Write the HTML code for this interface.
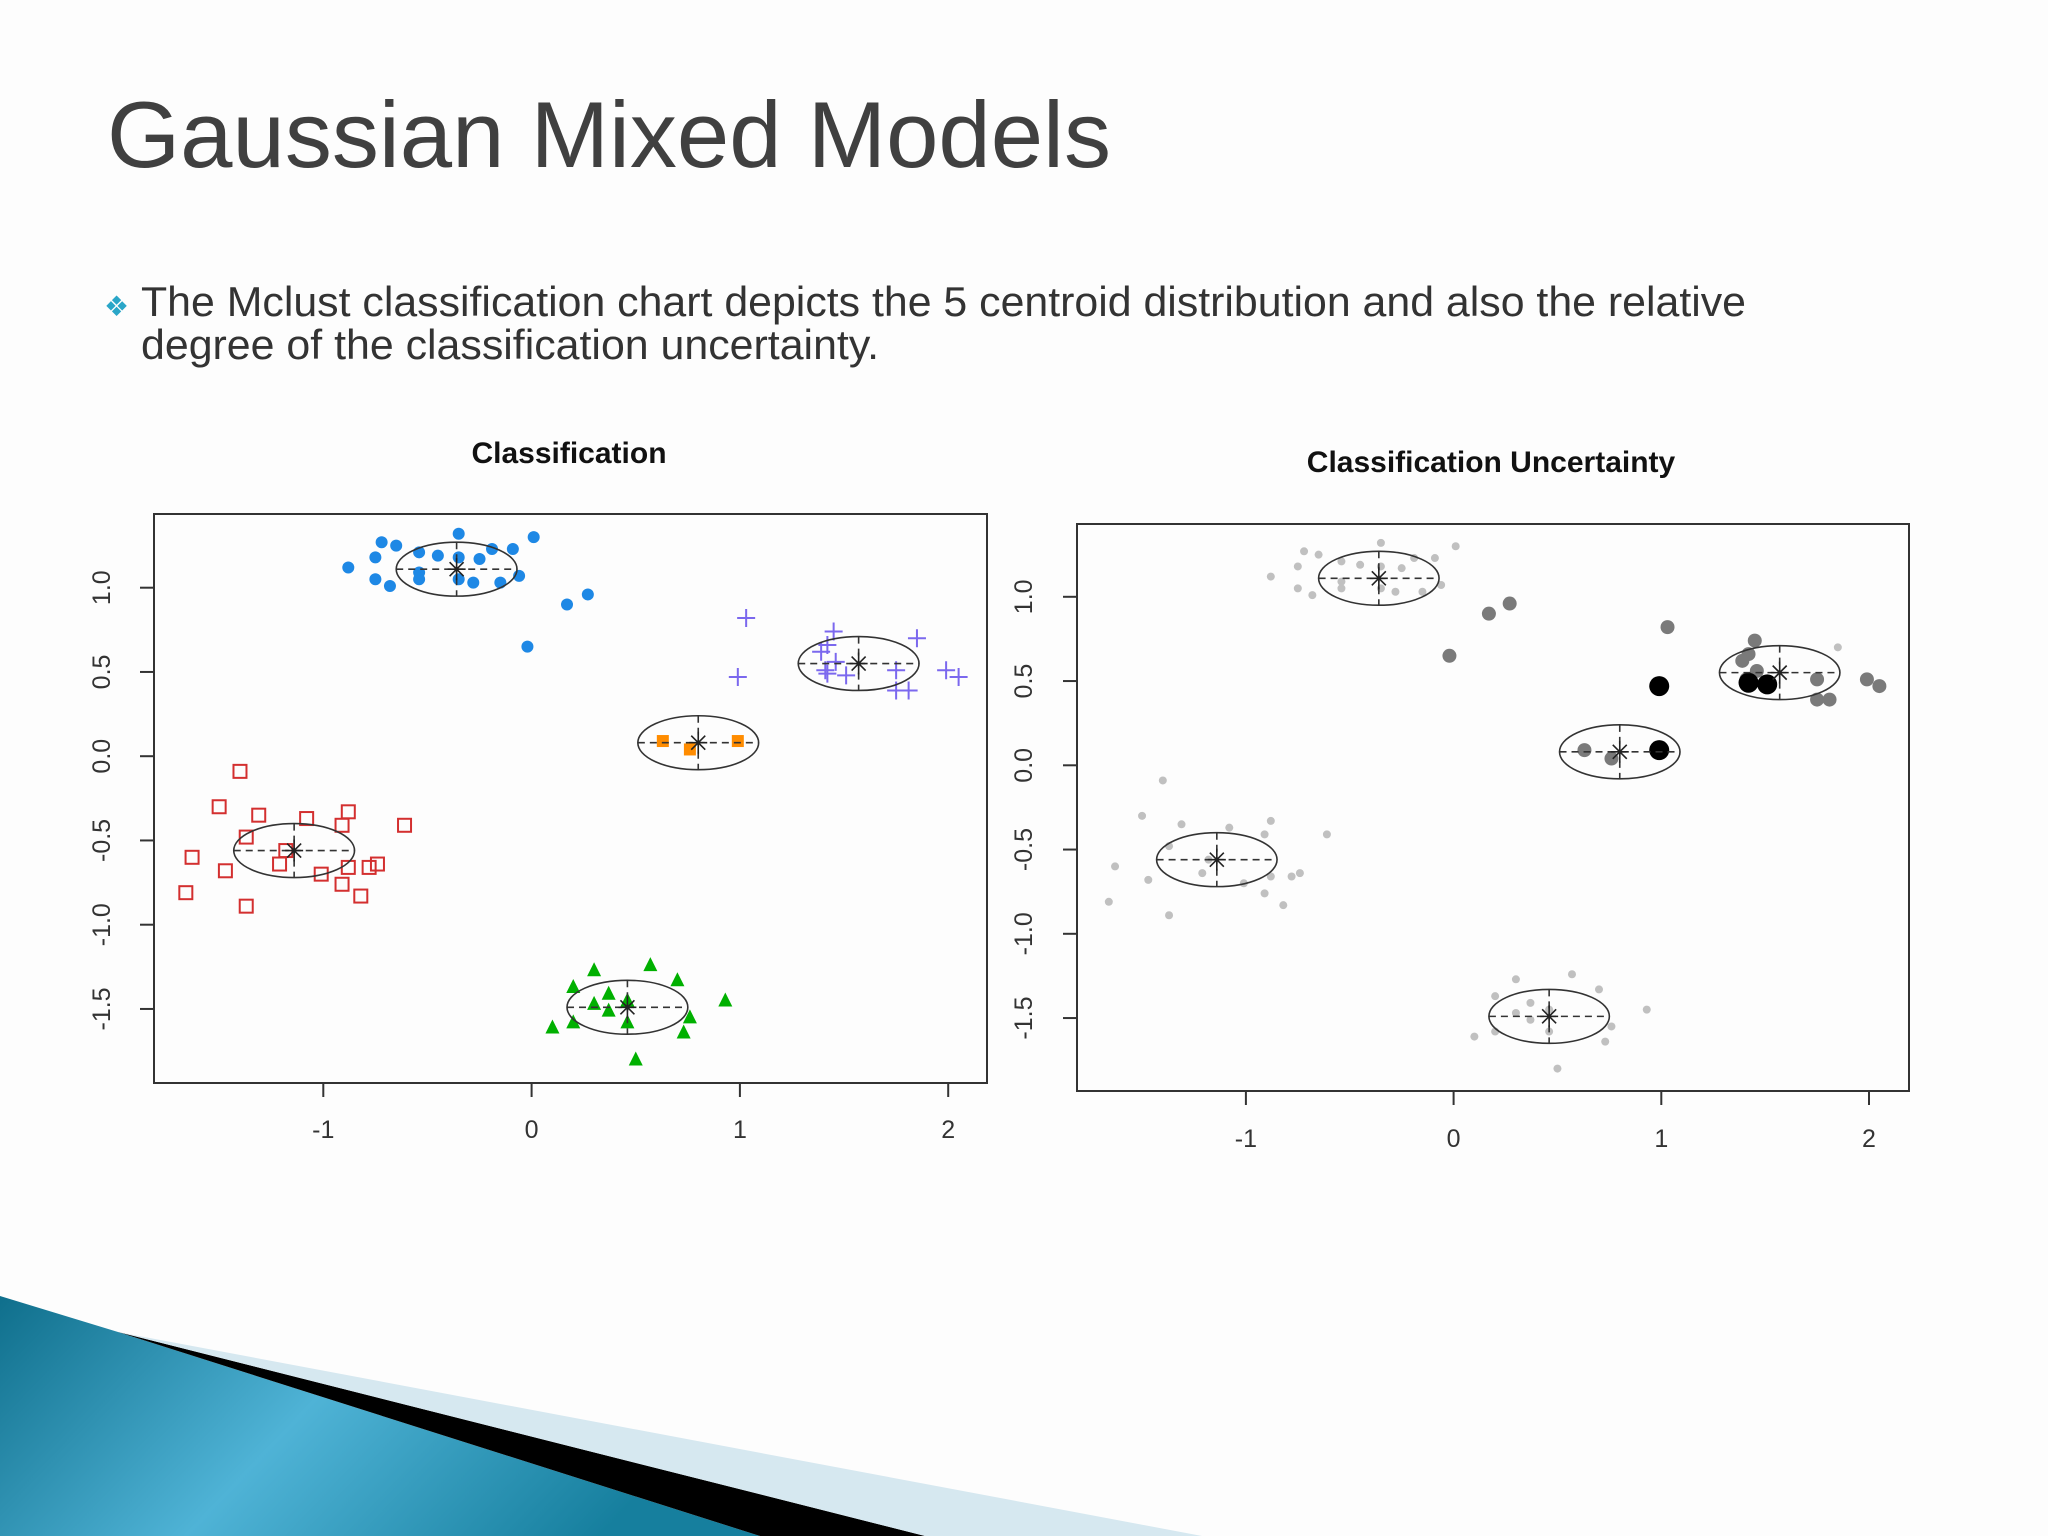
<!DOCTYPE html>
<html><head><meta charset="utf-8"><style>
html,body{margin:0;padding:0;background:#fdfdfd;}
svg{display:block;}
text{font-family:"Liberation Sans",sans-serif;}
</style></head><body>
<svg id="root" width="2048" height="1536" viewBox="0 0 2048 1536" xmlns="http://www.w3.org/2000/svg">
<defs>
<linearGradient id="bg1" x1="0" y1="0" x2="1" y2="0.3">
<stop offset="0" stop-color="#0f6f8c"/><stop offset="0.5" stop-color="#4fb3d6"/><stop offset="1" stop-color="#167f9e"/>
</linearGradient>
</defs>
<rect width="2048" height="1536" fill="#fdfdfd"/>
<text x="107" y="167" font-size="94" fill="#404040" textLength="1004" lengthAdjust="spacingAndGlyphs">Gaussian Mixed Models</text>
<text x="104" y="316" font-size="28" fill="#2aa6c8">❖</text>
<text x="141" y="316" font-size="42" fill="#333" textLength="1605" lengthAdjust="spacingAndGlyphs">The Mclust classification chart depicts the 5 centroid distribution and also the relative</text>
<text x="141" y="359" font-size="42" fill="#333" textLength="738" lengthAdjust="spacingAndGlyphs">degree of the classification uncertainty.</text>
<polygon points="0,1296 118,1332 760,1536 0,1536" fill="url(#bg1)"/>
<polygon points="118,1332 925,1536 760,1536" fill="#000"/>
<polygon points="118,1332 1202,1536 925,1536" fill="#d6e8f0"/>
<g id="chart1"></g>
<g id="chart2"></g>
</svg>
<script>
const blueX=[-0.35,0.01,-0.72,-0.65,-0.54,-0.45,-0.35,-0.25,-0.19,-0.09,-0.75,-0.88,-0.54,-0.75,-0.68,-0.54,-0.35,-0.28,-0.15,-0.06,0.17,0.27,-0.02];
const blueY=[1.32,1.30,1.27,1.25,1.21,1.19,1.18,1.17,1.23,1.23,1.18,1.12,1.09,1.05,1.01,1.05,1.05,1.03,1.03,1.07,0.90,0.96,0.65];
const blueU=[0,0,0,0,0,0,0,0,0,0,0,0,0,0,0,0,0,0,0,0,1,1,1];
const purpleX=[1.03,0.99,1.45,1.42,1.39,1.41,1.46,1.51,1.85,1.75,1.75,1.81,1.99,2.05,1.42];
const purpleY=[0.82,0.47,0.74,0.66,0.62,0.51,0.56,0.48,0.70,0.51,0.39,0.39,0.51,0.47,0.49];
const purpleU=[1,2,1,1,1,1,1,2,0,1,1,1,1,1,2];
const orangeX=[0.63,0.76,0.99];
const orangeY=[0.09,0.04,0.09];
const orangeU=[1,1,2];
const redX=[-1.40,-1.50,-1.31,-1.08,-0.88,-0.91,-0.61,-1.37,-1.18,-1.63,-1.21,-1.47,-1.01,-0.88,-0.78,-0.74,-1.66,-0.91,-0.82,-1.37];
const redY=[-0.09,-0.30,-0.35,-0.37,-0.33,-0.41,-0.41,-0.48,-0.56,-0.60,-0.64,-0.68,-0.70,-0.66,-0.66,-0.64,-0.81,-0.76,-0.83,-0.89];
const redU=[0,0,0,0,0,0,0,0,0,0,0,0,0,0,0,0,0,0,0,0];
const greenX=[0.30,0.57,0.70,0.20,0.37,0.30,0.46,0.37,0.93,0.10,0.20,0.46,0.76,0.73,0.50];
const greenY=[-1.27,-1.24,-1.33,-1.37,-1.41,-1.47,-1.45,-1.51,-1.45,-1.61,-1.58,-1.58,-1.55,-1.64,-1.80];
const greenU=[0,0,0,0,0,0,0,0,0,0,0,0,0,0,0];
const centerX=[-0.36,1.57,0.80,-1.14,0.46];
const centerY=[1.11,0.55,0.08,-0.56,-1.49];
const xTicks=[-1,0,1,2];
const yTicks=[-1.5,-1.0,-0.5,0.0,0.5,1.0];
const yTickLabels=["-1.5","-1.0","-0.5","0.0","0.5","1.0"];

const NS="http://www.w3.org/2000/svg";
function mk(parent,tag,attrs){const e=document.createElementNS(NS,tag);for(const k in attrs)e.setAttribute(k,attrs[k]);parent.appendChild(e);return e;}

function drawChart(gid,box,x0,xu,y0,yu,title,titleX,titleY,ylabX,xlabY,mode){
  const g=document.getElementById(gid);
  const sx=v=>x0+v*xu, sy=v=>y0-v*yu;
  const t=mk(g,'text',{x:titleX,y:titleY,'font-size':30,'font-weight':'bold','text-anchor':'middle',fill:'#111'});
  t.textContent=title;
  
  
  const fr=mk(g,'rect',{x:box[0],y:box[1],width:box[2]-box[0],height:box[3]-box[1],fill:'none',stroke:'#333','stroke-width':2});
  
  
  xTicks.forEach(v=>{
    const tl=mk(g,'line',{x1:sx(v),x2:sx(v),y1:box[3],y2:box[3]+14,stroke:'#333','stroke-width':2});
    
    
    const tx=mk(g,'text',{x:sx(v),y:xlabY,'font-size':25,'text-anchor':'middle',fill:'#333'});
    tx.textContent=String(v);
    
    
  });
  yTicks.forEach((v,i)=>{
    const tl=mk(g,'line',{x1:box[0]-14,x2:box[0],y1:sy(v),y2:sy(v),stroke:'#333','stroke-width':2});
    
    
    const tx=mk(g,'text',{x:ylabX,y:sy(v),'font-size':25,'text-anchor':'middle',fill:'#333',transform:`rotate(-90 ${ylabX} ${sy(v)})`});
    tx.textContent=yTickLabels[i];
    
    
  });
  const colors=['#1e88e5','#7b68ee','#ff8c00','#d32f2f','#00b000'];
  const sets=[[blueX,blueY,blueU,'dot'],[purpleX,purpleY,purpleU,'plus'],[orangeX,orangeY,orangeU,'fsq'],[redX,redY,redU,'osq'],[greenX,greenY,greenU,'tri']];
  sets.forEach((s,ci)=>{
    s[0].forEach((xv,i)=>{
      const px=sx(xv),py=sy(s[1][i]);let e;
      if(mode==='unc'){
        const u=s[2][i];
        const r=[4,7,10][u], col=['#c0c0c0','#7a7a7a','#000'][u];
        e=mk(g,'circle',{cx:px,cy:py,r:r,fill:col});
      } else {
        const c=colors[ci], k=s[3];
        if(k==='dot') e=mk(g,'circle',{cx:px,cy:py,r:6,fill:c});
        else if(k==='plus') e=mk(g,'path',{d:`M${px-9} ${py}H${px+9}M${px} ${py-9}V${py+9}`,stroke:c,'stroke-width':2,fill:'none'});
        else if(k==='fsq') e=mk(g,'rect',{x:px-6,y:py-6,width:12,height:12,fill:c});
        else if(k==='osq') e=mk(g,'rect',{x:px-6.5,y:py-6.5,width:13,height:13,fill:'none',stroke:c,'stroke-width':2});
        else e=mk(g,'path',{d:`M${px} ${py-8}L${px+7} ${py+6}L${px-7} ${py+6}Z`,fill:c});
      }
      
      
    });
  });
  centerX.forEach((cx,i)=>{
    const px=sx(cx),py=sy(centerY[i]);
    const rx=0.29*xu, ry=0.16*yu;
    const el=mk(g,'ellipse',{cx:px,cy:py,rx:rx,ry:ry,fill:'none',stroke:'#333','stroke-width':1.6});
    
    
    const ax=mk(g,'path',{d:`M${px-rx} ${py}H${px+rx}M${px} ${py-ry}V${py+ry}`,stroke:'#333','stroke-width':1.6,'stroke-dasharray':'7 5',fill:'none'});
    
    
    const st=mk(g,'path',{d:`M${px-9} ${py}H${px+9}M${px} ${py-11}V${py+11}M${px-7} ${py-7}L${px+7} ${py+7}M${px-7} ${py+7}L${px+7} ${py-7}`,stroke:'#222','stroke-width':1.6});
    
    
  });
}
drawChart('chart1',[154,514,987,1083],531.6,208.3,756.2,168.5,'Classification',569,463,110,1138,'cls');
drawChart('chart2',[1077,524,1909,1091],1453.6,207.7,765.3,168.5,'Classification Uncertainty',1491,472,1032,1147,'unc');
</script>
</body></html>
